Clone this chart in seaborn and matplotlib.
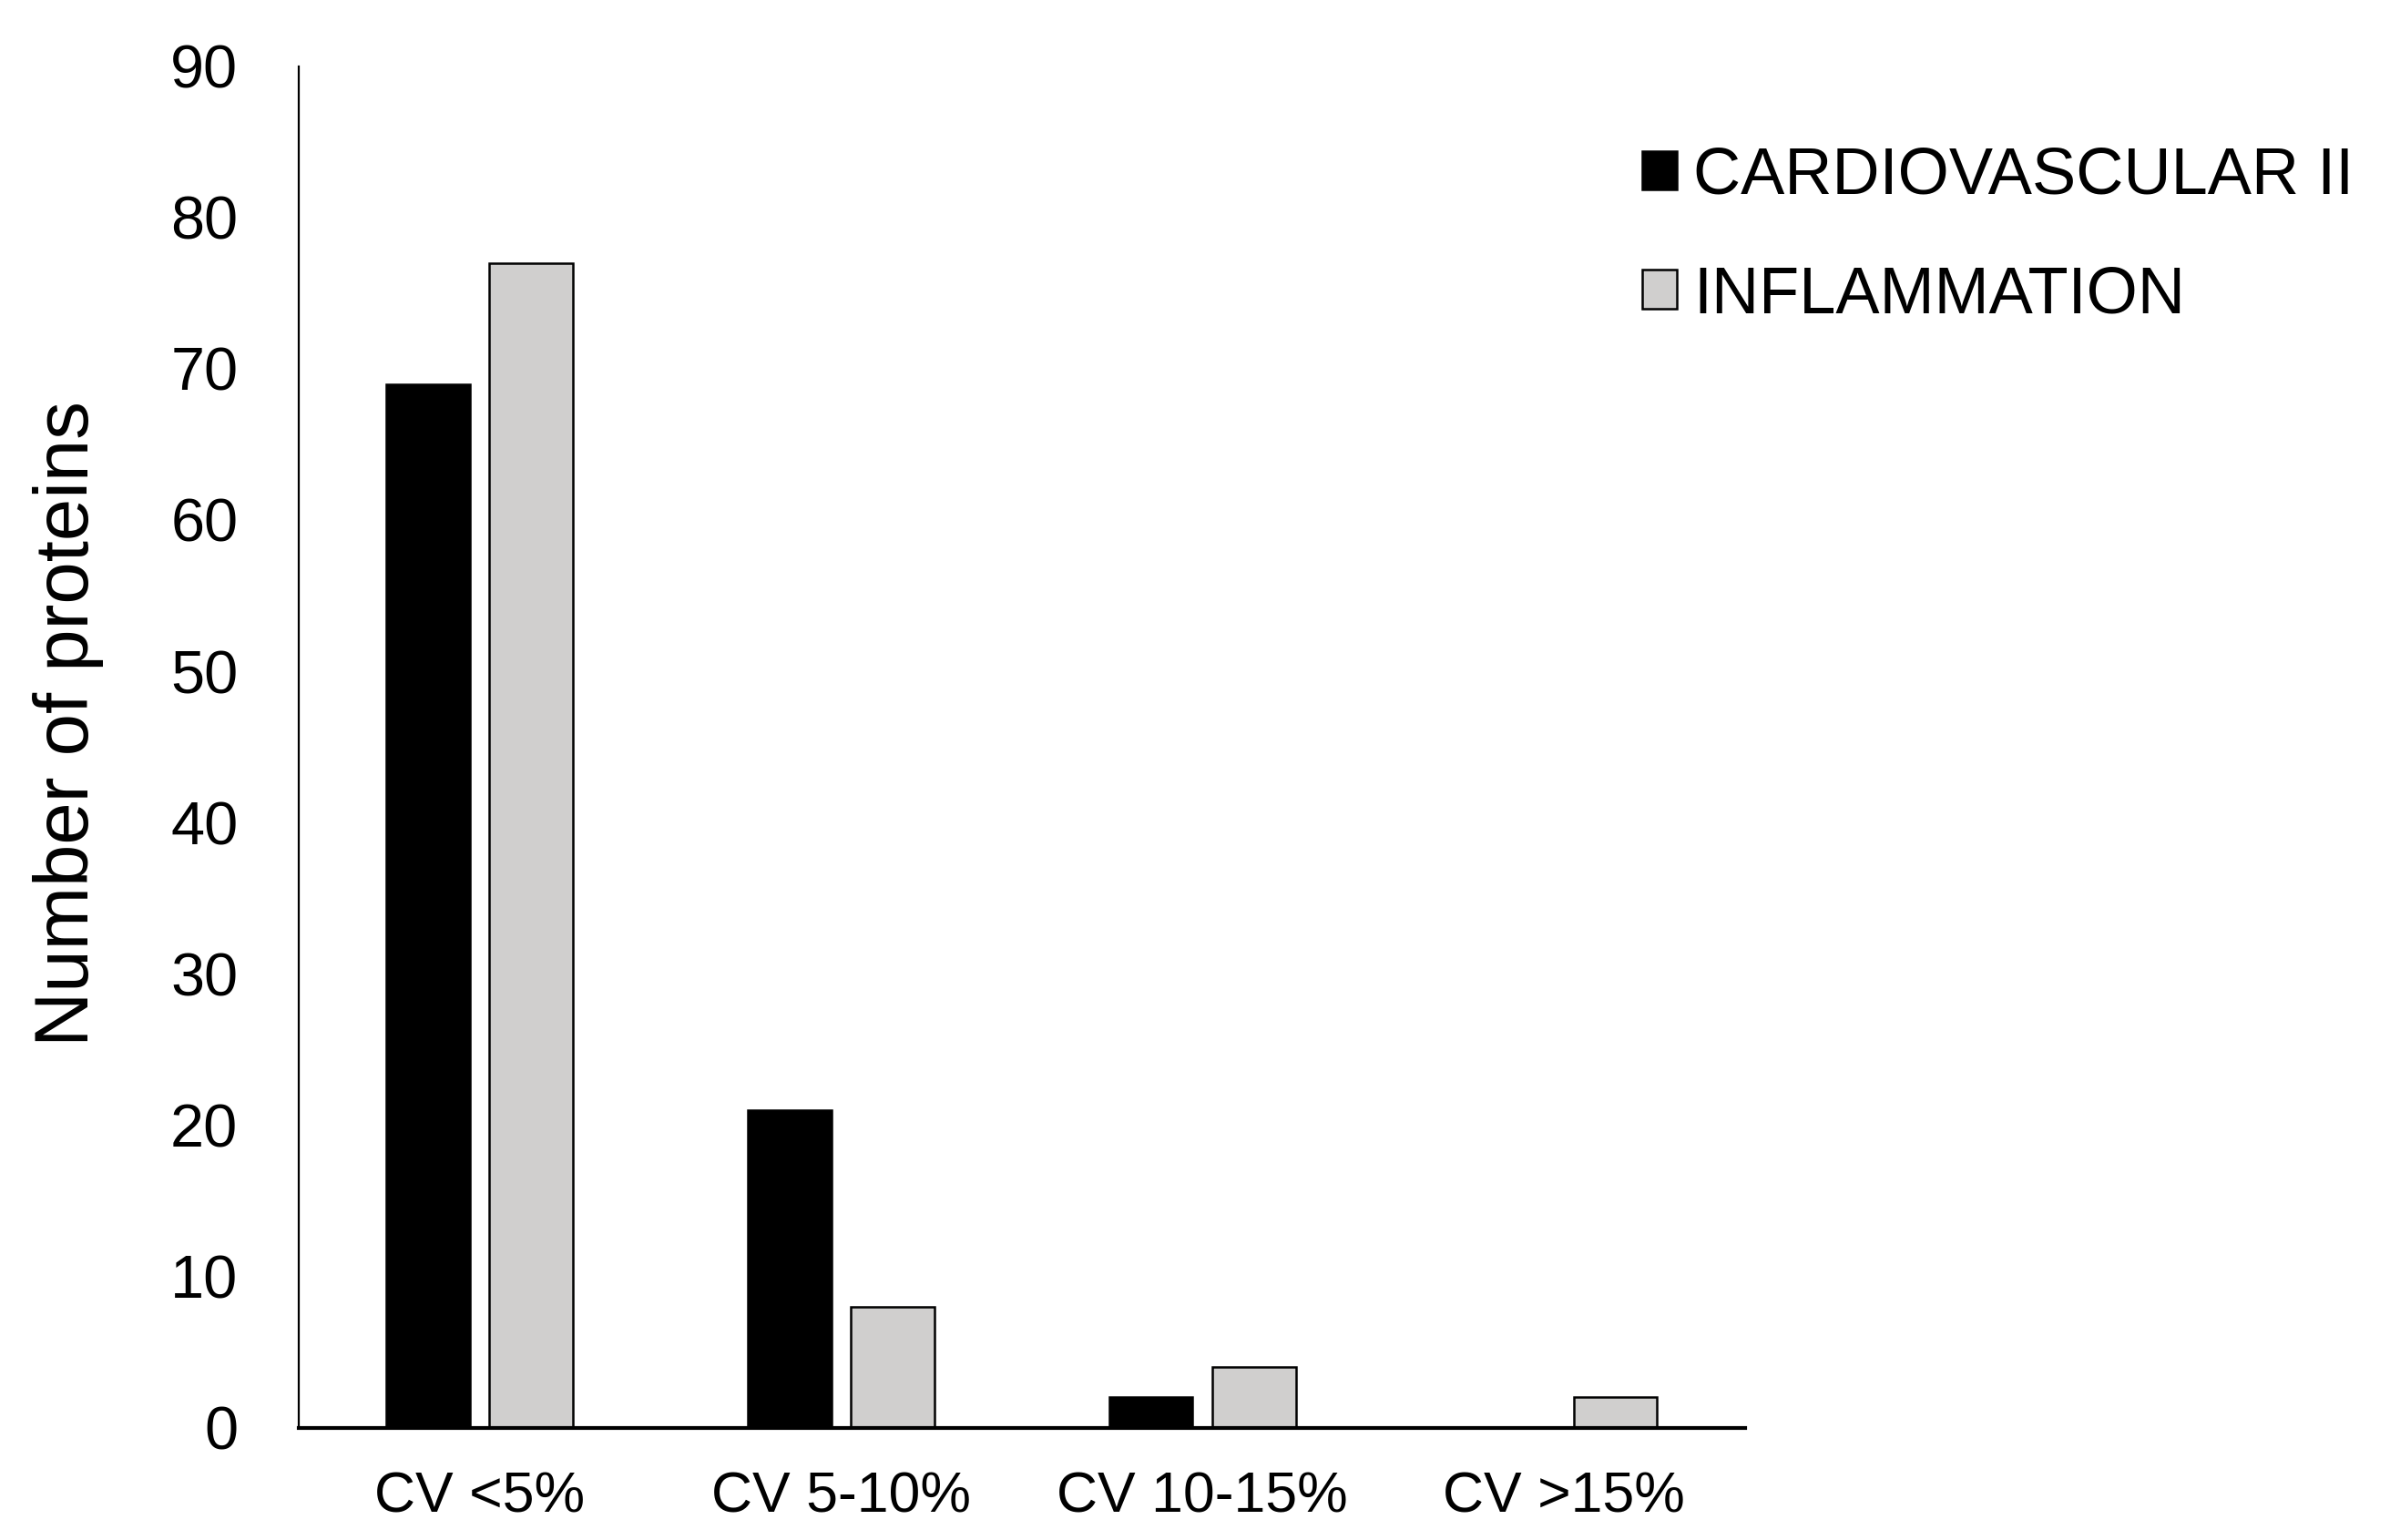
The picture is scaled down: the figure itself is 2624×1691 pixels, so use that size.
import pandas as pd
import numpy as np
import matplotlib
matplotlib.use("Agg")
import matplotlib.pyplot as plt
import seaborn as sns

categories = ["CV <5%", "CV 5-10%", "CV 10-15%", "CV >15%"]
cardio = [69, 21, 2, 0]
inflam = [77, 8, 4, 2]
groups = ["CARDIOVASCULAR II", "INFLAMMATION"]

df = pd.DataFrame({
    "cv": categories * 2,
    "group": [groups[0]] * 4 + [groups[1]] * 4,
    "count": cardio + inflam,
})

sns.set_theme(style="white")
plt.rcParams['font.family'] = ['Liberation Sans', 'DejaVu Sans']
plt.rcParams['text.color'] = 'black'
plt.rcParams['axes.labelcolor'] = 'black'
plt.rcParams['xtick.color'] = 'black'
plt.rcParams['ytick.color'] = 'black'

fig = plt.figure(figsize=(13.12, 8.455), dpi=200)
ax = fig.add_axes([0.125, 0.073, 0.605, 0.884])

sns.barplot(data=df, x="cv", y="count", hue="group", order=categories,
            hue_order=groups, palette={groups[0]: "black", groups[1]: "#D0CFCE"},
            width=0.57, gap=0.19, edgecolor="black", linewidth=0.9, ax=ax)

ax.set_ylim(0, 90)
ax.set_yticks(np.arange(0, 91, 10))
ax.set_xlim(-0.5, 3.5)
ax.set_xlabel("")
ax.set_ylabel("Number of proteins", fontsize=30)
ax.yaxis.set_label_coords(-0.135, 0.517)

ax.tick_params(axis="y", length=0, pad=24, labelsize=24)
ax.tick_params(axis="x", length=0, pad=17, labelsize=22.5)

for s in ["top", "right"]:
    ax.spines[s].set_visible(False)
ax.spines["left"].set_linewidth(0.8)
ax.spines["left"].set_color("black")
ax.spines["bottom"].set_linewidth(1.5)
ax.spines["bottom"].set_color("black")

handles, labels = ax.get_legend_handles_labels()
ax.get_legend().remove()
fig.legend(handles, labels, loc="upper left", bbox_to_anchor=(0.687, 0.905),
           frameon=False, fontsize=26, handlelength=0.53, handleheight=0.53,
           handletextpad=0.25, labelspacing=0.88, borderpad=0, borderaxespad=0)

fig.savefig("out.png", dpi=200, facecolor="white")
